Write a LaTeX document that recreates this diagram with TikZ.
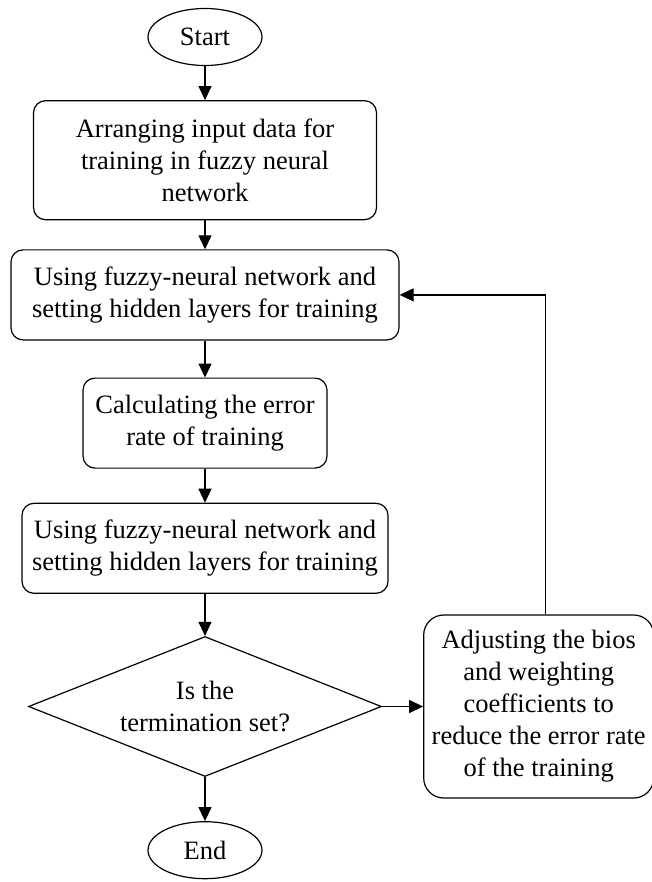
\documentclass[tikz,border=0pt]{standalone}
\usepackage{fontspec}
\setmainfont{Liberation Serif}
\usetikzlibrary{shapes.geometric, arrows.meta, positioning}
\tikzset{
	startstop/.style={ellipse, minimum width=114pt, minimum height=57pt, inner sep=0pt, draw=black, line width=1.2pt},
	process/.style={rectangle, rounded corners=12pt, minimum height=90pt, inner sep=0pt, align=center, draw=black, line width=1.2pt},
	decision/.style={diamond, aspect=2.5, minimum width=353pt, minimum height=140pt, inner sep=0pt, align=center, draw=black, line width=1.2pt},
	arrow/.style={line width=1.2pt, -{Triangle[length=14pt, width=13pt]}}
}

\begin{document}
\begin{tikzpicture}[x=1pt, y=1pt, font=\fontsize{26.5}{32}\selectfont]
		\useasboundingbox (0,0) rectangle (652,-882);
		
		% Nodes
		\node (start) [startstop] at (205,-37) {Start};
		\node (arrange) [process, minimum width=343pt, minimum height=119pt, below=34pt of start] {Arranging input data for \\ training in fuzzy neural \\ network};
		\node (train) [process, minimum width=388pt, below=29pt of arrange] {Using fuzzy-neural network and \\ setting hidden layers for training};
		\node (error) [process, minimum width=244pt, below=37pt of train] {Calculating the error \\ rate of training};
		\node (train2) [process, minimum width=366pt, below=34pt of error] {Using fuzzy-neural network and \\ setting hidden layers for training};
		\node (check) [decision, below=42pt of train2] {Is the \\ termination set?};
		\node (stop) [startstop, below=44pt of check] {End};
		\node (adjust) [process, rounded corners=20pt, minimum width=230pt, minimum height=183pt, right=41pt of check] {Adjusting the bios \\ and weighting \\ coefficients to \\ reduce the error rate \\ of the training};
		
		% Arrows
		\draw [arrow] (start) -- (arrange);
		\draw [arrow] (arrange) -- (train);
		\draw [arrow] (train) -- (error);
		\draw [arrow] (error) -- (train2);
		\draw [arrow] (train2) -- (check);
		\draw [arrow] (check) -- (stop);
		\draw [arrow] (check) -- (adjust);
		\draw [arrow] ([xshift=7pt]adjust.north) |- (train.east);
		
	\end{tikzpicture}
\end{document}
